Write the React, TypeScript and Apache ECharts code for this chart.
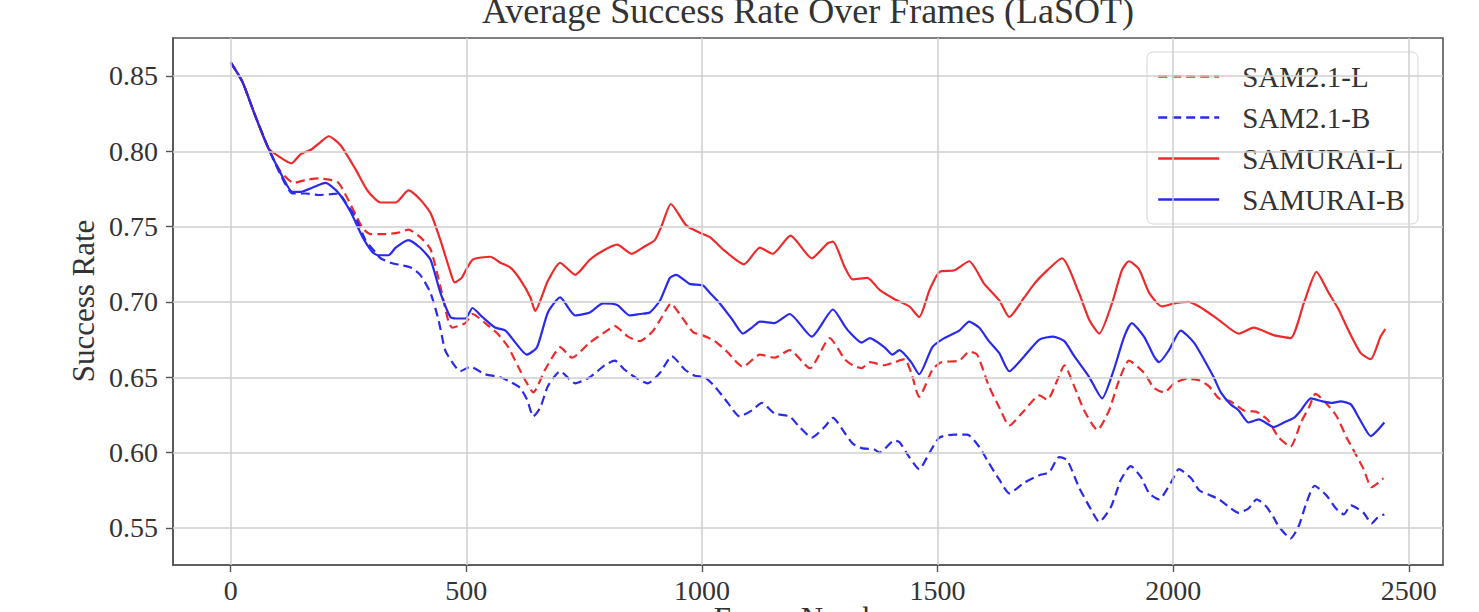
import React, { useEffect, useRef } from "react";
import * as echarts from "echarts";

const xTicks = [0, 500, 1000, 1500, 2000, 2500];
const yTicks = [0.55, 0.6, 0.65, 0.7, 0.75, 0.8, 0.85];

const seriesNames = ["SAM2.1-L", "SAM2.1-B", "SAMURAI-L", "SAMURAI-B"];

const sam21LFrames = [0, 25, 49, 80, 105, 134, 159, 187, 212, 229, 244, 265, 280, 297, 328, 356, 377, 402, 424, 445, 462, 470, 498, 513, 540, 566, 589, 610, 625, 642, 667, 688, 699, 724, 762, 794, 815, 843, 868, 894, 915, 934, 957, 981, 1000, 1027, 1053, 1087, 1123, 1154, 1186, 1229, 1271, 1303, 1320, 1339, 1356, 1387, 1408, 1430, 1444, 1461, 1489, 1508, 1546, 1567, 1584, 1609, 1631, 1652, 1684, 1716, 1733, 1754, 1769, 1790, 1811, 1839, 1864, 1885, 1906, 1938, 1959, 1981, 2002, 2029, 2055, 2076, 2097, 2122, 2150, 2177, 2200, 2224, 2249, 2271, 2288, 2302, 2324, 2347, 2368, 2387, 2404, 2421, 2446];
const sam21LValues = [0.859, 0.846, 0.826, 0.802, 0.787, 0.779, 0.781, 0.782, 0.781, 0.779, 0.771, 0.758, 0.749, 0.745, 0.745, 0.746, 0.748, 0.743, 0.735, 0.71, 0.687, 0.683, 0.686, 0.692, 0.686, 0.679, 0.67, 0.657, 0.648, 0.64, 0.655, 0.666, 0.67, 0.663, 0.673, 0.68, 0.684, 0.677, 0.674, 0.68, 0.69, 0.699, 0.69, 0.68, 0.678, 0.674, 0.667, 0.657, 0.665, 0.663, 0.668, 0.656, 0.676, 0.662, 0.658, 0.656, 0.66, 0.658, 0.66, 0.662, 0.653, 0.637, 0.655, 0.66, 0.661, 0.667, 0.665, 0.644, 0.63, 0.618, 0.628, 0.638, 0.635, 0.648, 0.658, 0.644, 0.628, 0.615, 0.628, 0.648, 0.661, 0.653, 0.643, 0.64, 0.646, 0.649, 0.648, 0.644, 0.636, 0.634, 0.628, 0.627, 0.622, 0.61, 0.604, 0.62, 0.63, 0.639, 0.633, 0.624, 0.61, 0.599, 0.589, 0.577, 0.583];

const sam21BFrames = [0, 25, 49, 80, 105, 131, 159, 187, 212, 229, 244, 265, 286, 307, 318, 339, 360, 381, 402, 424, 441, 455, 470, 487, 508, 540, 572, 593, 614, 629, 642, 657, 673, 699, 731, 762, 794, 815, 836, 858, 885, 911, 936, 964, 985, 1006, 1027, 1055, 1080, 1106, 1127, 1154, 1186, 1207, 1233, 1260, 1278, 1303, 1320, 1339, 1366, 1377, 1408, 1419, 1440, 1461, 1483, 1504, 1536, 1563, 1588, 1609, 1631, 1652, 1684, 1716, 1737, 1758, 1775, 1800, 1826, 1843, 1868, 1889, 1910, 1931, 1949, 1970, 1995, 2012, 2038, 2055, 2076, 2097, 2118, 2139, 2160, 2177, 2198, 2213, 2224, 2249, 2266, 2283, 2300, 2324, 2345, 2362, 2377, 2404, 2421, 2434, 2448];
const sam21BValues = [0.859, 0.846, 0.826, 0.802, 0.785, 0.772, 0.772, 0.771, 0.7715, 0.772, 0.766, 0.756, 0.741, 0.733, 0.729, 0.726, 0.7245, 0.723, 0.718, 0.706, 0.688, 0.668, 0.66, 0.654, 0.657, 0.652, 0.65, 0.647, 0.643, 0.635, 0.624, 0.63, 0.644, 0.654, 0.646, 0.65, 0.658, 0.661, 0.655, 0.65, 0.646, 0.653, 0.664, 0.655, 0.651, 0.65, 0.644, 0.633, 0.624, 0.628, 0.633, 0.626, 0.624, 0.617, 0.61, 0.617, 0.623, 0.613, 0.606, 0.603, 0.602, 0.6, 0.608, 0.607, 0.597, 0.589, 0.6, 0.61, 0.612, 0.612, 0.604, 0.593, 0.582, 0.573, 0.58, 0.585, 0.587, 0.597, 0.595, 0.577, 0.562, 0.554, 0.564, 0.582, 0.591, 0.584, 0.573, 0.569, 0.58, 0.589, 0.583, 0.575, 0.572, 0.569, 0.564, 0.56, 0.563, 0.569, 0.564, 0.557, 0.551, 0.543, 0.551, 0.567, 0.578, 0.572, 0.563, 0.559, 0.565, 0.56, 0.553, 0.557, 0.559];

const samuraiLFrames = [0, 25, 49, 80, 105, 129, 148, 170, 190, 208, 233, 265, 290, 318, 350, 377, 402, 424, 445, 466, 475, 490, 513, 551, 572, 593, 614, 636, 646, 673, 699, 731, 762, 790, 820, 851, 879, 900, 915, 934, 966, 995, 1017, 1048, 1089, 1123, 1150, 1188, 1233, 1267, 1278, 1303, 1320, 1351, 1377, 1408, 1440, 1461, 1483, 1504, 1536, 1567, 1599, 1631, 1652, 1684, 1705, 1726, 1764, 1800, 1822, 1843, 1870, 1891, 1906, 1927, 1949, 1976, 2002, 2033, 2065, 2097, 2139, 2171, 2213, 2249, 2277, 2304, 2330, 2351, 2372, 2398, 2419, 2440, 2450];
const samuraiLValues = [0.859, 0.846, 0.826, 0.802, 0.796, 0.792, 0.798, 0.801, 0.806, 0.81, 0.804, 0.788, 0.774, 0.766, 0.766, 0.774, 0.768, 0.759, 0.741, 0.72, 0.713, 0.716, 0.728, 0.73, 0.726, 0.723, 0.715, 0.703, 0.694, 0.714, 0.726, 0.718, 0.728, 0.734, 0.738, 0.732, 0.737, 0.741, 0.751, 0.765, 0.751, 0.746, 0.743, 0.734, 0.725, 0.736, 0.732, 0.744, 0.729, 0.739, 0.74, 0.723, 0.715, 0.716, 0.708, 0.702, 0.697, 0.69, 0.708, 0.72, 0.721, 0.727, 0.712, 0.701, 0.69, 0.703, 0.712, 0.719, 0.729, 0.706, 0.688, 0.679, 0.699, 0.721, 0.727, 0.722, 0.706, 0.697, 0.699, 0.7, 0.695, 0.688, 0.679, 0.683, 0.678, 0.676, 0.699, 0.72, 0.706, 0.695, 0.681, 0.666, 0.662, 0.677, 0.682];

const samuraiBFrames = [0, 25, 49, 80, 105, 131, 148, 174, 201, 227, 254, 280, 301, 313, 335, 350, 377, 402, 424, 445, 466, 477, 498, 513, 534, 561, 583, 604, 628, 650, 673, 699, 731, 762, 790, 820, 847, 868, 889, 911, 932, 945, 974, 1002, 1017, 1038, 1065, 1087, 1106, 1123, 1154, 1186, 1233, 1278, 1303, 1313, 1339, 1356, 1387, 1404, 1419, 1444, 1461, 1489, 1514, 1546, 1567, 1588, 1609, 1631, 1652, 1684, 1716, 1745, 1769, 1790, 1822, 1849, 1874, 1896, 1912, 1938, 1959, 1970, 1991, 2016, 2044, 2065, 2086, 2101, 2122, 2139, 2160, 2182, 2213, 2235, 2256, 2271, 2292, 2317, 2338, 2355, 2377, 2396, 2419, 2448];
const samuraiBValues = [0.859, 0.846, 0.826, 0.802, 0.786, 0.773, 0.773, 0.776, 0.779, 0.773, 0.76, 0.743, 0.733, 0.731, 0.731, 0.736, 0.741, 0.736, 0.728, 0.706, 0.69, 0.689, 0.689, 0.696, 0.69, 0.683, 0.681, 0.673, 0.665, 0.67, 0.693, 0.703, 0.691, 0.693, 0.699, 0.698, 0.691, 0.692, 0.693, 0.701, 0.716, 0.718, 0.712, 0.711, 0.706, 0.699, 0.688, 0.679, 0.683, 0.687, 0.686, 0.692, 0.677, 0.695, 0.684, 0.68, 0.673, 0.676, 0.67, 0.665, 0.668, 0.66, 0.652, 0.67, 0.676, 0.681, 0.687, 0.683, 0.674, 0.666, 0.654, 0.664, 0.675, 0.677, 0.674, 0.664, 0.65, 0.636, 0.655, 0.677, 0.686, 0.677, 0.664, 0.66, 0.668, 0.681, 0.673, 0.662, 0.65, 0.64, 0.632, 0.628, 0.62, 0.622, 0.617, 0.62, 0.623, 0.628, 0.636, 0.634, 0.633, 0.634, 0.632, 0.622, 0.611, 0.62];

const RED = "#ee2a2a";
const BLUE = "#2a2aee";
const SERIF = "'Liberation Serif', 'DejaVu Serif', serif";

function pairs(xs: number[], ys: number[]) {
  return xs.map((x, i) => [x, ys[i]]);
}

export default function App() {
  const ref = useRef<HTMLDivElement>(null);
  useEffect(() => {
    if (!ref.current) return;
    const chart = echarts.init(ref.current, undefined, { renderer: "svg" });
    const lineSeries = (name: string, data: number[][], color: string, dashed: boolean) => ({
      name,
      type: "line",
      data,
      symbol: "none",
      showSymbol: false,
      smooth: 0.2,
      z: 3,
      lineStyle: { color, width: 2.2, type: dashed ? [9, 5] : "solid" },
      itemStyle: { color },
    });
    chart.setOption({
      animation: false,
      backgroundColor: "#ffffff",
      grid: {
        left: 173,
        right: 36,
        top: 38,
        bottom: 47,
        show: true,
        borderColor: "#555555",
        borderWidth: 1.6,
        backgroundColor: "transparent",
      },
      xAxis: {
        type: "value",
        min: -122.5,
        max: 2572.5,
        axisLine: { show: true, onZero: false, lineStyle: { color: "#555555", width: 1.6 } },
        axisTick: { show: true, length: 7, customValues: xTicks, lineStyle: { color: "#555555", width: 1.4 } },
        axisLabel: {
          customValues: xTicks,
          margin: 11,
          fontSize: 28,
          fontFamily: SERIF,
          color: "#333333",
          formatter: (v: number) => String(v),
        },
        splitLine: { show: false },
      },
      yAxis: {
        type: "value",
        min: 0.5254,
        max: 0.8752,
        axisLine: { show: true, onZero: false, lineStyle: { color: "#555555", width: 1.6 } },
        axisTick: { show: true, length: 7, customValues: yTicks, lineStyle: { color: "#555555", width: 1.4 } },
        axisLabel: {
          customValues: yTicks,
          margin: 15,
          fontSize: 28,
          fontFamily: SERIF,
          color: "#333333",
          formatter: (v: number) => v.toFixed(2),
        },
        splitLine: { show: false },
      },
      legend: {
        data: seriesNames,
        orient: "vertical",
        left: 1147,
        top: 52,
        itemWidth: 61,
        itemHeight: 16,
        itemGap: 12,
        padding: [10, 13, 10, 10],
        backgroundColor: "rgba(255,255,255,0.85)",
        borderColor: "#d6d6d6",
        borderWidth: 1,
        borderRadius: 6,
        itemStyle: { color: "rgba(0,0,0,0)", borderWidth: 0, opacity: 0 },
        lineStyle: { width: 2.4 },
        textStyle: { fontSize: 29, fontFamily: SERIF, color: "#333333", padding: [0, 0, 0, 18] },
      },
      graphic: [
        {
          type: "text",
          x: 808,
          y: 11,
          style: {
            text: "Average Success Rate Over Frames (LaSOT)",
            fontSize: 36,
            fontFamily: SERIF,
            fill: "#333333",
            align: "center",
            verticalAlign: "middle",
          },
        },
        {
          type: "text",
          x: 83,
          y: 301,
          rotation: Math.PI / 2,
          style: {
            text: "Success Rate",
            fontSize: 31,
            fontFamily: SERIF,
            fill: "#333333",
            align: "center",
            verticalAlign: "middle",
          },
        },
        {
          type: "text",
          x: 808,
          y: 618,
          style: {
            text: "Frame Number",
            fontSize: 31,
            fontFamily: SERIF,
            fill: "#333333",
            align: "center",
            verticalAlign: "middle",
          },
        },
      ],
      series: [
        {
          name: "grid",
          type: "line",
          data: [[0, 0.7]],
          symbol: "none",
          silent: true,
          z: 1,
          lineStyle: { opacity: 0 },
          markLine: {
            silent: true,
            symbol: ["none", "none"],
            label: { show: false },
            lineStyle: { color: "#cfcfcf", width: 1.5, type: "solid" },
            data: [
              ...xTicks.map((v) => ({ xAxis: v })),
              ...yTicks.map((v) => ({ yAxis: v })),
            ],
          },
        },
        lineSeries("SAM2.1-L", pairs(sam21LFrames, sam21LValues), RED, true),
        lineSeries("SAM2.1-B", pairs(sam21BFrames, sam21BValues), BLUE, true),
        lineSeries("SAMURAI-L", pairs(samuraiLFrames, samuraiLValues), RED, false),
        lineSeries("SAMURAI-B", pairs(samuraiBFrames, samuraiBValues), BLUE, false),
      ],
    });
    return () => chart.dispose();
  }, []);
  return (
    <div
      ref={ref}
      style={{ position: "absolute", left: 0, top: 0, width: 1479, height: 612 }}
    />
  );
}
